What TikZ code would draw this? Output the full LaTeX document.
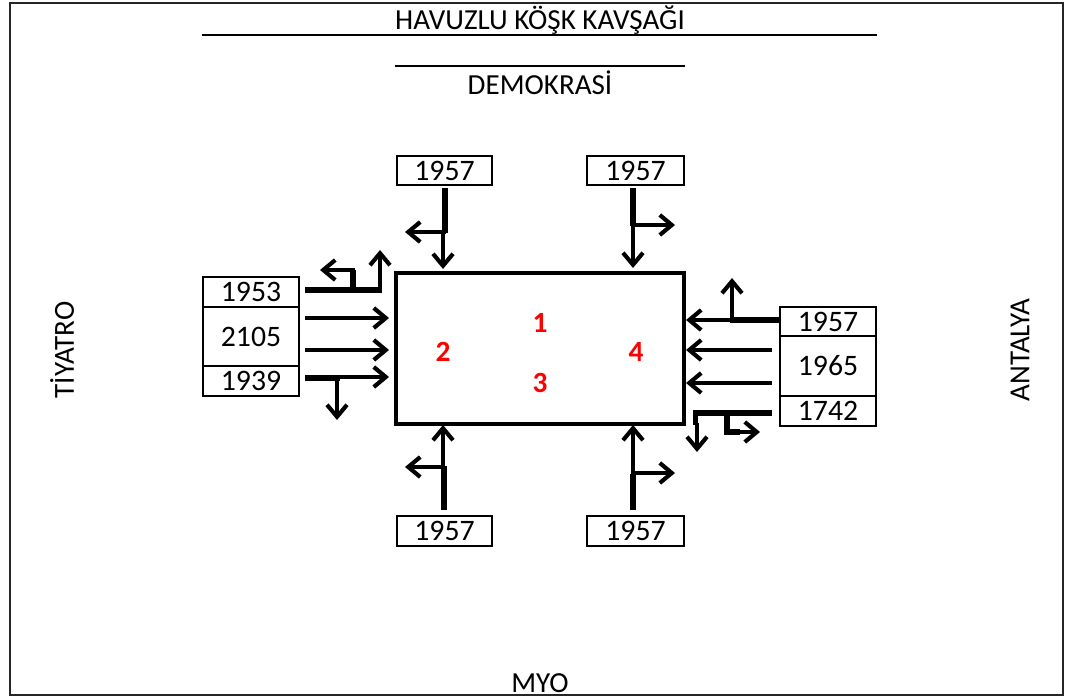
\documentclass[tikz,border=0pt]{standalone}
\usepackage{fontspec}
\setmainfont{Carlito}
\usetikzlibrary{arrows.meta}
\begin{document}
\begin{tikzpicture}[x=0.75pt,y=-0.75pt,
 road/.style={font=\fontsize{21.8}{24}\selectfont, inner sep=0},
 cbox/.style={draw, line width=1.5pt, inner sep=0, font=\fontsize{22.3}{24}\selectfont},
 num/.style={text=red, inner sep=0, font=\fontsize{22}{24}\selectfont\bfseries},
 stem/.style={line width=3.9pt},
 arr/.style={line width=3.1pt, -{Straight Barb[length=9pt,width=15pt,line width=3.1pt]}},
 rule/.style={line width=1.3pt},
]
\useasboundingbox (0,0) rectangle (1070,698);
\draw[line width=1.6pt, black!85] (10,3) rectangle (1063,695);

% street names
\node[road] (title) at (540,20) {HAVUZLU KÖŞK KAVŞAĞI};
\coordinate (r1a) at (202,35); \coordinate (r1b) at (877,35);
\draw[rule] (r1a) -- (r1b);
\coordinate (r2a) at (395,66); \coordinate (r2b) at (685,66);
\draw[rule] (r2a) -- (r2b);
\node[road] (dem) at (540,83) {DEMOKRASİ};
\node[road, rotate=90] (tiy) at (62,350) {TİYATRO};
\node[road, rotate=90] (ant) at (1020,350) {ANTALYA};
\node[road] (myo) at (540,683) {MYO};

% junction
\node[draw, line width=2.3pt, minimum width=216pt, minimum height=113.25pt, inner sep=0] (J) at (540,348.5) {};
\node[num] (n1) at (540,323) {1};
\node[num] (n2) at (443,352) {2};
\node[num] (n3) at (540,383) {3};
\node[num] (n4) at (636,352) {4};

% top boxes
\node[cbox, minimum width=71.25pt, minimum height=21.75pt] (t1) at (444.5,170.5) {1957};
\node[cbox, minimum width=72.75pt, minimum height=21.75pt] (t2) at (635.5,170.5) {1957};
% bottom boxes
\node[cbox, minimum width=71.25pt, minimum height=22.5pt] (b1) at (444.5,531) {1957};
\node[cbox, minimum width=72.75pt, minimum height=22.5pt] (b2) at (635.5,531) {1957};
% left boxes
\node[cbox, minimum width=72pt, minimum height=22.5pt] (l1) at (251,292) {1953};
\node[cbox, minimum width=72pt, minimum height=44.25pt] (l2) at (251,336.5) {2105};
\node[cbox, minimum width=72pt, minimum height=22.5pt] (l3) at (251,381) {1939};
% right boxes
\node[cbox, minimum width=72pt, minimum height=21.75pt] (r1) at (828,321.5) {1957};
\node[cbox, minimum width=72pt, minimum height=45pt] (r2) at (828,366) {1965};
\node[cbox, minimum width=72pt, minimum height=22.5pt] (r3) at (828,411) {1742};

% top-left approach
\draw[stem] (445,188) -- (445,233);
\draw[arr] (443,232) -- (443,269);
\draw[arr] (446,232) -- (405,232);
% top-right approach
\draw[stem] (633,188) -- (633,226);
\draw[arr] (633,224) -- (633,268);
\draw[arr] (632,225) -- (675,225);
% bottom-left approach
\draw[stem] (444,510) -- (444,466);
\draw[arr] (443,468) -- (443,425);
\draw[arr] (445,467) -- (405,467);
% bottom-right approach
\draw[stem] (633,510) -- (633,474);
\draw[arr] (633,476) -- (633,425);
\draw[arr] (632,473) -- (675,473);

% left approach
\draw[stem] (305,290) -- (382,290);
\draw[arr] (380,292) -- (380,250);
\draw[stem] (353,291) -- (353,270);
\draw[arr] (355,270) -- (320,270);
\draw[arr] (305,318) -- (389,318);
\draw[arr] (305,350) -- (389,350);
\draw[stem] (305,378) -- (340,378);
\draw[arr] (305,377) -- (389,377);
\draw[arr] (337,377) -- (337,420);

% right approach
\draw[stem] (780,320) -- (730,320);
\draw[arr] (735,320) -- (686,320);
\draw[arr] (732,322) -- (732,278);
\draw[arr] (772,350) -- (686,350);
\draw[arr] (772,383) -- (686,383);
\draw[stem] (772,413) -- (695.6,413) -- (695.6,425);
\draw[arr] (697,423) -- (697,452);
\draw[stem] (727,413) -- (727,432) -- (740,432);
\draw[arr] (730,432) -- (760,432);
\end{tikzpicture}
\end{document}
